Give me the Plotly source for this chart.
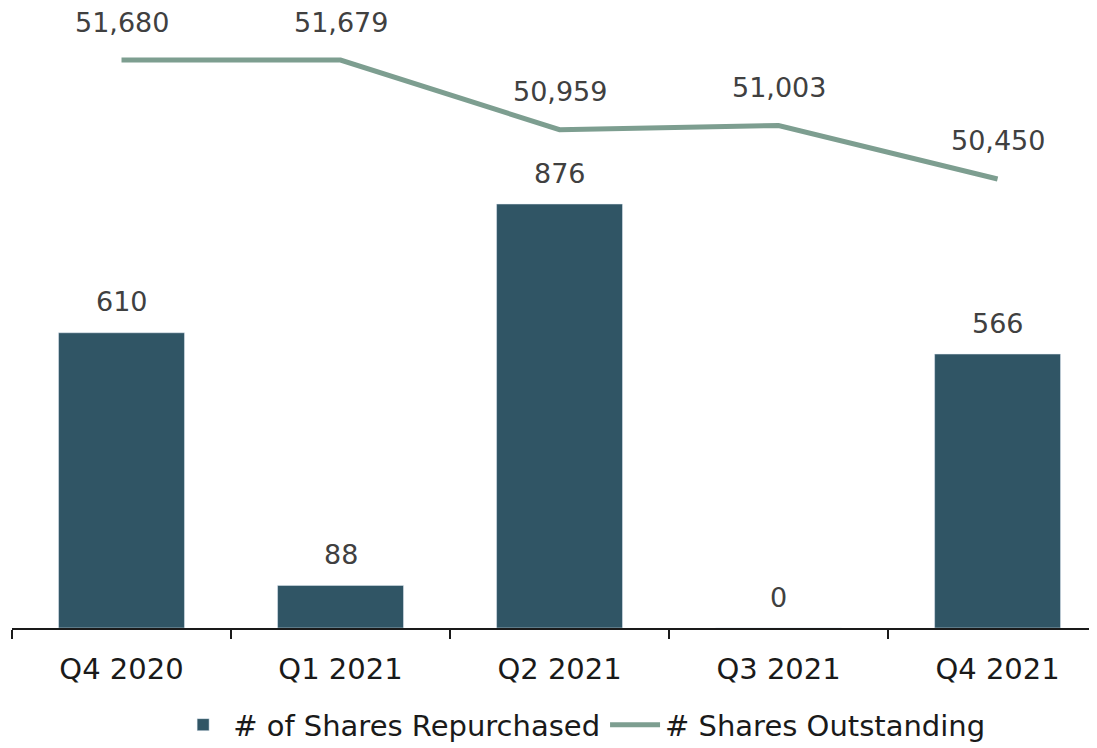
"""
Share repurchases vs shares outstanding — Plotly chart.
"""

import plotly.graph_objects as go

quarters = ["Q4 2020", "Q1 2021", "Q2 2021", "Q3 2021", "Q4 2021"]
repurchased = [610, 88, 876, 0, 566]
outstanding = [51680, 51679, 50959, 51003, 50450]

BAR_COLOR = "#305565"
LINE_COLOR = "#7D9E90"
FONT = "DejaVu Sans"

fig = go.Figure()
fig.add_trace(
    go.Bar(
        x=quarters,
        y=repurchased,
        name="# of Shares Repurchased",
        marker_color=BAR_COLOR,
        width=0.575,
    )
)
fig.add_trace(
    go.Scatter(
        x=quarters,
        y=outstanding,
        name="# Shares Outstanding",
        mode="lines",
        line=dict(color=LINE_COLOR, width=5),
        yaxis="y2",
    )
)

# data labels
for q, v in zip(quarters, repurchased):
    fig.add_annotation(
        x=q, y=v, yref="y", text=f"{v:,}", showarrow=False,
        yshift=31, font=dict(size=27, color="#404040", family=FONT),
    )
for q, v in zip(quarters, outstanding):
    fig.add_annotation(
        x=q, y=v, yref="y2", text=f"{v:,}", showarrow=False,
        yshift=38, font=dict(size=27, color="#404040", family=FONT),
    )

fig.update_layout(
    width=1097,
    height=748,
    margin=dict(l=4, r=8, t=0, b=128, autoexpand=False),
    plot_bgcolor="white",
    paper_bgcolor="white",
    font=dict(family=FONT, size=26, color="#1a1a1a"),
    showlegend=True,
    legend=dict(
        orientation="h", x=0.525, xanchor="center", y=-0.115, yanchor="top",
        font=dict(size=29), itemwidth=50, tracegroupgap=0,
    ),
    xaxis=dict(
        range=[-0.5, 4.454],
        showline=True, linecolor="#1a1a1a", linewidth=1.5,
        ticks="outside", tickson="boundaries", ticklen=9, tickwidth=1.5,
        tickcolor="#1a1a1a", ticklabelstandoff=14,
        tickfont=dict(size=29, color="#1a1a1a"),
        showgrid=False, zeroline=False,
    ),
    yaxis=dict(range=[0, 1281], visible=False, showgrid=False, zeroline=False),
    yaxis2=dict(
        range=[45806, 52218], overlaying="y", side="right",
        visible=False, showgrid=False, zeroline=False,
    ),
)

fig.write_html("out.html")
